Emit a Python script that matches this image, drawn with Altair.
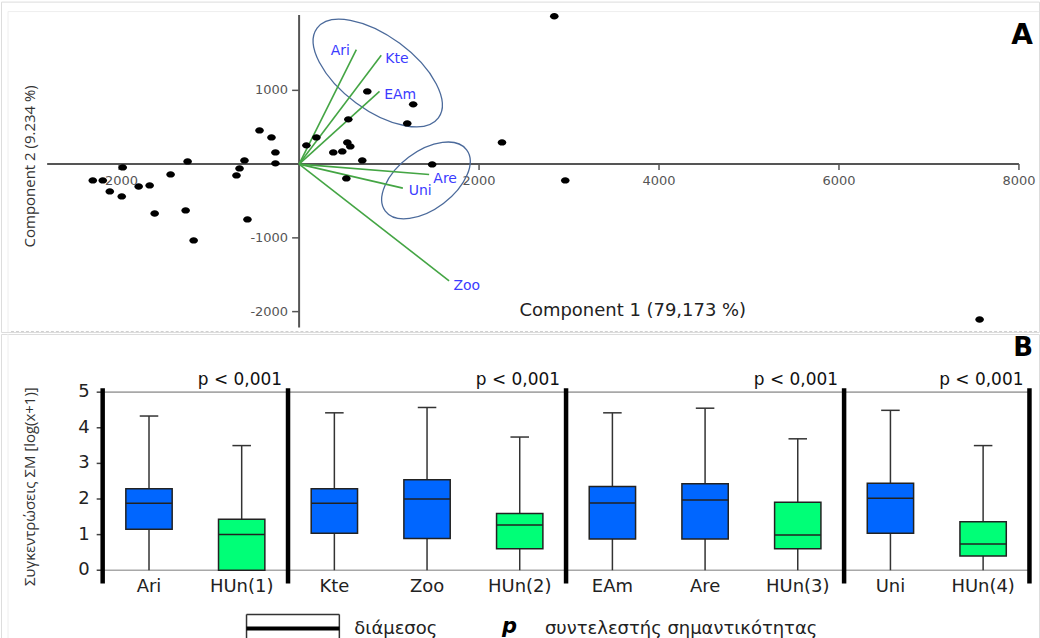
import altair as alt
import pandas as pd

# ================= Panel A: PCA biplot =================
pc1 = [-2293, -2182, -1960, -2104, -1971, -1783, -1661, -1428, -1605, -1239, -1261, -1172,
       -696, -662, -607, -574, -440, -307, -263, -263, 81, 192, 547, 758, 536, 569, 380, 480,
       702, 525, 1268, 1202, 1479, 2255, 2836, 2958, 7563]
pc2 = [-221, -221, -45, -370, -438, -303, -289, -140, -669, 37, -628, -1035,
       -153, -58, 50, -750, 457, 362, 159, 10, 254, 362, 607, 986, 294, 240, 159, 172,
       50, -194, 810, 552, -4, 294, 2004, -221, -2107]

vec_names = ["Ari", "Kte", "EAm", "Are", "Uni", "Zoo"]
vec_x = [636, 913, 894, 1445, 1153, 1667]
vec_y = [1552, 1475, 986, -140, -326, -1582]
vec_label_x = [458, 1087, 1124, 1623, 1346, 1863]
vec_label_y = [1539, 1425, 932, -198, -370, -1650]

group_center_x = [874, 1410]
group_center_y = [1235, -221]

a_x_ticks = [-2000, 2000, 4000, 6000, 8000]
a_y_ticks = [1000, -1000, -2000]
a_x_extent = [-2800, 8000]
a_y_extent = [-2215, 2020]
a_x_domain = [-3313, 8223]
a_y_domain = [-2276, 2203]
a_x_title = "Component 1 (79,173 %)"
a_y_title = "Component 2 (9.234 %)"

# ================= Panel B: box plots =================
b_cats = ["Ari", "HUn(1)", "Kte", "Zoo", "HUn(2)", "EAm", "Are", "HUn(3)", "Uni", "HUn(4)"]
b_q1 = [1.15, 0.00, 1.04, 0.89, 0.60, 0.88, 0.88, 0.60, 1.04, 0.40]
b_med = [1.88, 1.00, 1.88, 2.00, 1.27, 1.89, 1.97, 0.99, 2.02, 0.74]
b_q3 = [2.29, 1.43, 2.29, 2.54, 1.59, 2.35, 2.43, 1.91, 2.44, 1.36]
b_max = [4.33, 3.50, 4.42, 4.57, 3.74, 4.42, 4.55, 3.69, 4.49, 3.50]
b_min = [0, 0, 0, 0, 0, 0, 0, 0, 0, 0]
b_group_sizes = [2, 3, 3, 2]
b_p_labels = ["p < 0,001", "p < 0,001", "p < 0,001", "p < 0,001"]
b_y_ticks = [0, 1, 2, 3, 4, 5]
b_sep_extent = [-0.37, 5.11]
b_x_domain = [-1.597, 9.603]
b_y_domain = [-1.970, 6.634]
b_y_title = "Συγκεντρώσεις ΣΜ [log(x+1)]"

W, HA, HB = 1040, 331, 307
FONT = "DejaVu Sans"


def ellipse_path(r):
    k = 0.5523
    return (f"M 1 0 C 1 {r*k:.4f} {k:.4f} {r:.4f} 0 {r:.4f} "
            f"C {-k:.4f} {r:.4f} -1 {r*k:.4f} -1 0 "
            f"C -1 {-r*k:.4f} {-k:.4f} {-r:.4f} 0 {-r:.4f} "
            f"C {k:.4f} {-r:.4f} 1 {-r*k:.4f} 1 0 Z")


def QX(field, dom):
    return alt.X(f"{field}:Q", scale=alt.Scale(domain=dom, nice=False, zero=False), axis=None)


def QY(field, dom):
    return alt.Y(f"{field}:Q", scale=alt.Scale(domain=dom, nice=False, zero=False), axis=None)


dummy = pd.DataFrame({"d": [0]})

# ---------- Panel A layers ----------
ax = lambda f: QX(f, a_x_domain)
ay = lambda f: QY(f, a_y_domain)

frame_a = alt.layer(
    alt.Chart(dummy).mark_rule(color="#eeeeee", strokeWidth=1).encode(
        x=alt.value(7), x2=alt.value(W), y=alt.value(10)),
    alt.Chart(dummy).mark_rule(color="#eeeeee", strokeWidth=1).encode(
        x=alt.value(7), y=alt.value(10), y2=alt.value(HA)),
    alt.Chart(dummy).mark_rule(color="#cfcfcf", strokeWidth=1, strokeDash=[3, 2]).encode(
        x=alt.value(10), x2=alt.value(W), y=alt.value(HA - 0.5)),
)

axes_df = pd.DataFrame({
    "x": [a_x_extent[0], 0], "x2": [a_x_extent[1], 0],
    "y": [0, a_y_extent[0]], "y2": [0, a_y_extent[1]],
})
axis_lines = alt.Chart(axes_df).mark_rule(color="#555555", strokeWidth=2).encode(
    x=ax("x"), x2="x2", y=ay("y"), y2="y2")

xt_df = pd.DataFrame({"v": a_x_ticks, "z": 0, "lab": [str(t) for t in a_x_ticks]})
yt_df = pd.DataFrame({"v": a_y_ticks, "z": 0, "lab": [str(t) for t in a_y_ticks]})
x_tick_marks = alt.Chart(xt_df).mark_tick(orient="vertical", size=6, thickness=1.5,
                                          color="#555555", yOffset=3, opacity=1).encode(
    x=ax("v"), y=ay("z"))
y_tick_marks = alt.Chart(yt_df).mark_tick(orient="horizontal", size=7, thickness=1.5,
                                          color="#555555", xOffset=-3.5, opacity=1).encode(
    x=ax("z"), y=ay("v"))
x_tick_labels = alt.Chart(xt_df).mark_text(font=FONT, fontSize=13, color="#555555",
                                           dy=17, baseline="middle").encode(
    x=ax("v"), y=ay("z"), text="lab:N")
y_tick_labels = alt.Chart(yt_df).mark_text(font=FONT, fontSize=13, color="#555555",
                                           dx=-11, align="right", baseline="middle").encode(
    x=ax("z"), y=ay("v"), text="lab:N")

ell_layers = []
ell_style = [(75.6, 37.0, 36.5), (51.0, 29.0, 323.0)]
for cx, cy, (a, b, ang) in zip(group_center_x, group_center_y, ell_style):
    edf = pd.DataFrame({"x": [cx], "y": [cy]})
    ell_layers.append(
        alt.Chart(edf).mark_point(shape=ellipse_path(b / a), size=(2 * a) ** 2, angle=ang,
                                  filled=False, stroke="#4b6a9b", strokeWidth=1.3,
                                  opacity=1).encode(x=ax("x"), y=ay("y"))
    )

vec_df = pd.DataFrame({"name": vec_names, "x0": 0, "y0": 0, "x": vec_x, "y": vec_y,
                       "lx": vec_label_x, "ly": vec_label_y})
vectors = alt.Chart(vec_df).mark_rule(color="#44a544", strokeWidth=1.6).encode(
    x=ax("x0"), y=ay("y0"), x2="x", y2="y")
vec_labels = alt.Chart(vec_df).mark_text(font=FONT, fontSize=14, color="#3b3bff",
                                         baseline="middle").encode(
    x=ax("lx"), y=ay("ly"), text="name:N")

pts_df = pd.DataFrame({"pc1": pc1, "pc2": pc2})
points = alt.Chart(pts_df).mark_point(shape=ellipse_path(0.74), size=8.6 ** 2, filled=True,
                                      color="black", opacity=1).encode(
    x=ax("pc1"), y=ay("pc2"))

texts_a = alt.layer(
    alt.Chart(dummy).mark_text(text=a_x_title, font=FONT, fontSize=18, color="#222222",
                               baseline="middle").encode(x=alt.value(633), y=alt.value(310)),
    alt.Chart(dummy).mark_text(text=a_y_title, font="Open Sans", fontSize=15, color="#333333",
                               angle=270, baseline="middle").encode(x=alt.value(29), y=alt.value(165)),
    alt.Chart(dummy).mark_text(text="A", font=FONT, fontSize=28, fontWeight="bold",
                               color="black", baseline="middle").encode(x=alt.value(1023), y=alt.value(34)),
)

panel_a = alt.layer(
    frame_a, axis_lines, x_tick_marks, y_tick_marks, x_tick_labels, y_tick_labels,
    *ell_layers, vectors, points, vec_labels, texts_a,
).properties(width=W, height=HA)

# ---------- Panel B layers ----------
bx = lambda f: QX(f, b_x_domain)
by = lambda f: QY(f, b_y_domain)

n = len(b_cats)
box_df = pd.DataFrame({"cat": b_cats, "q1": b_q1, "med": b_med, "q3": b_q3,
                       "wmax": b_max, "wmin": b_min})
box_df["i"] = list(range(n))
box_df["l"] = box_df["i"] - 0.25
box_df["r"] = box_df["i"] + 0.25
box_df["cl"] = box_df["i"] - 0.1
box_df["cr"] = box_df["i"] + 0.1
box_df["zero"] = 0
box_df["kind"] = ["HUn" if c.startswith("HUn") else "ΣΜ" for c in b_cats]

bounds = [-0.5]
acc = 0
for s in b_group_sizes:
    acc += s
    bounds.append(acc - 0.5)
sep_df = pd.DataFrame({"x": bounds, "y": b_sep_extent[0], "y2": b_sep_extent[1]})
p_df = pd.DataFrame({"x": bounds[1:], "y": max(b_y_ticks), "lab": b_p_labels})

hl_df = pd.DataFrame({"x": -0.5, "x2": n - 0.5, "y": [min(b_y_ticks), max(b_y_ticks)]})
yt_b = pd.DataFrame({"v": b_y_ticks, "x": -0.5, "lab": [str(t) for t in b_y_ticks]})

frame_b = alt.Chart(dummy).mark_rule(color="#eeeeee", strokeWidth=1).encode(
    x=alt.value(7), y=alt.value(0), y2=alt.value(HB))

hlines = alt.Chart(hl_df).mark_rule(color="#a8a8a8", strokeWidth=1.6).encode(
    x=bx("x"), x2="x2", y=by("y"))
ytick_b = alt.Chart(yt_b).mark_tick(orient="horizontal", size=6, thickness=1.5, color="#444444",
                                   xOffset=-3, opacity=1).encode(x=bx("x"), y=by("v"))
ylab_b = alt.Chart(yt_b).mark_text(font=FONT, fontSize=18, color="#222222", dx=-13,
                                  align="right", baseline="middle").encode(
    x=bx("x"), y=by("v"), text="lab:N")

whisk_lo = alt.Chart(box_df).mark_rule(color="#333333", strokeWidth=1.5).encode(
    x=bx("i"), y=by("wmin"), y2="q1")
whisk_hi = alt.Chart(box_df).mark_rule(color="#333333", strokeWidth=1.5).encode(
    x=bx("i"), y=by("q3"), y2="wmax")
caps = alt.Chart(box_df).mark_rule(color="#333333", strokeWidth=1.5).encode(
    x=bx("cl"), x2="cr", y=by("wmax"))
boxes = alt.Chart(box_df).mark_rect(stroke="#222222", strokeWidth=1.5).encode(
    x=bx("l"), x2="r", y=by("q1"), y2="q3",
    fill=alt.Fill("kind:N", scale=alt.Scale(domain=["ΣΜ", "HUn"], range=["#0066ff", "#00ff77"]),
                  legend=None))
medians = alt.Chart(box_df).mark_rule(color="#222222", strokeWidth=1.5).encode(
    x=bx("l"), x2="r", y=by("med"))
seps = alt.Chart(sep_df).mark_rule(color="black", strokeWidth=4.5).encode(
    x=bx("x"), y=by("y"), y2="y2")
xlab_b = alt.Chart(box_df).mark_text(font=FONT, fontSize=18, color="#222222", dy=17,
                                    baseline="middle").encode(
    x=bx("i"), y=by("zero"), text="cat:N")
plab_b = alt.Chart(p_df).mark_text(font=FONT, fontSize=17, color="#111111", dx=-6, dy=-12,
                                  align="right", baseline="middle").encode(
    x=bx("x"), y=by("y"), text="lab:N")

texts_b = alt.layer(
    alt.Chart(dummy).mark_text(text=b_y_title, font="Open Sans", fontSize=15, color="#333333",
                               angle=270, baseline="middle").encode(x=alt.value(29), y=alt.value(153)),
    alt.Chart(dummy).mark_text(text="B", font=FONT, fontSize=26, fontWeight="bold",
                               color="black", baseline="middle").encode(x=alt.value(1024), y=alt.value(14)),
    # legend: median swatch
    alt.Chart(dummy).mark_rule(color="#333333", strokeWidth=1.5).encode(
        x=alt.value(246), x2=alt.value(339), y=alt.value(281)),
    alt.Chart(dummy).mark_rule(color="#333333", strokeWidth=1.5).encode(
        x=alt.value(246), y=alt.value(281), y2=alt.value(HB)),
    alt.Chart(dummy).mark_rule(color="#333333", strokeWidth=1.5).encode(
        x=alt.value(339), y=alt.value(281), y2=alt.value(HB)),
    alt.Chart(dummy).mark_rule(color="black", strokeWidth=4).encode(
        x=alt.value(246), x2=alt.value(339), y=alt.value(295)),
    alt.Chart(dummy).mark_text(text="διάμεσος", font=FONT, fontSize=18, color="#222222",
                               align="left", baseline="middle").encode(x=alt.value(354), y=alt.value(296)),
    alt.Chart(dummy).mark_text(text="p", font=FONT, fontSize=21, fontWeight="bold",
                               fontStyle="italic", color="black",
                               align="left", baseline="middle").encode(x=alt.value(502), y=alt.value(294)),
    alt.Chart(dummy).mark_text(text="συντελεστής σημαντικότητας", font=FONT, fontSize=18,
                               color="#222222", align="left", baseline="middle").encode(
        x=alt.value(545), y=alt.value(296)),
)

panel_b = alt.layer(
    frame_b, hlines, ytick_b, ylab_b, whisk_lo, whisk_hi, caps, boxes, medians, seps,
    xlab_b, plab_b, texts_b,
).properties(width=W, height=HB)

chart = alt.vconcat(panel_a, panel_b, spacing=0, padding=0).configure_view(
    stroke="transparent").configure(background="white")

chart.save("out.html", embed_options={"renderer": "svg", "actions": False})
